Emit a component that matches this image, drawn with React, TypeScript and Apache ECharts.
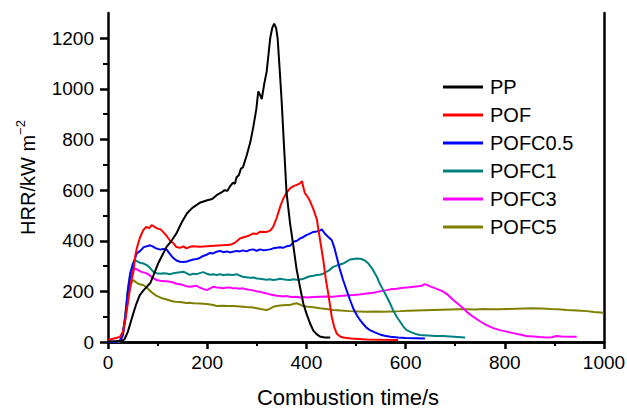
import React, { useEffect, useRef } from "react";
import * as echarts from "echarts";

const seriesNames = ["PP", "POF", "POFC0.5", "POFC1", "POFC3", "POFC5"];
const seriesColors = ["#000000", "#ff0000", "#0000ff", "#008080", "#ff00ff", "#808000"];

const ppData: number[][] = [
  [0, 2], [10, 3], [20, 4], [28, 5], [33, 10], [40, 40], [46, 80], [51, 113], [57, 150], [64, 185],
  [72, 205], [80, 222], [85, 232], [92, 265], [101, 310], [110, 345], [118, 376], [128, 400], [138, 429],
  [148, 470], [159, 508], [170, 530], [185, 550], [200, 560], [210, 565], [219, 580], [228, 590],
  [235, 600], [241, 598], [246, 615], [252, 630], [256, 625], [259, 650], [264, 660], [268, 685],
  [272, 690], [280, 740], [287, 790], [293, 850], [299, 920], [303, 990], [307, 975], [310, 960],
  [315, 1020], [320, 1070], [327, 1200], [331, 1240], [335, 1258], [339, 1240], [342, 1200],
  [346, 1080], [350, 955], [355, 770], [360, 590], [367, 470], [374, 376], [380, 290], [387, 218],
  [394, 150], [400, 113], [407, 75], [414, 45], [421, 30], [427, 22], [437, 18], [448, 18],
];

const pofData: number[][] = [
  [0, 8], [8, 12], [16, 16], [24, 20], [30, 40], [36, 100], [42, 180], [47, 240], [51, 275], [55, 340],
  [58, 370], [64, 410], [71, 442], [77, 455], [83, 450], [88, 462], [94, 455], [100, 448], [106, 445],
  [111, 435], [118, 420], [125, 400], [132, 390], [138, 375], [145, 372], [152, 378], [158, 370],
  [165, 376], [172, 378], [185, 376], [200, 378], [215, 380], [230, 382], [246, 384], [256, 392],
  [266, 409], [275, 415], [284, 420], [293, 429], [300, 427], [307, 436], [320, 435], [327, 440],
  [333, 455], [340, 490], [347, 534], [353, 565], [360, 590], [367, 607], [375, 617], [382, 622],
  [387, 627], [391, 636], [394, 610], [397, 588], [402, 575], [407, 558], [414, 525], [421, 485],
  [427, 410], [434, 324], [439, 250], [444, 192], [451, 100], [456, 60], [461, 34], [468, 22],
  [474, 18], [490, 14], [521, 10], [550, 9], [585, 8],
];

const pofc05Data: number[][] = [
  [0, 0], [15, 1], [24, 4], [30, 30], [35, 100], [40, 200], [45, 270], [51, 310], [58, 350], [65, 360],
  [72, 375], [78, 378], [85, 382], [90, 378], [95, 372], [100, 368], [106, 365], [111, 368], [118, 366],
  [124, 350], [130, 335], [138, 322], [145, 317], [152, 316], [159, 318], [165, 322], [172, 326],
  [179, 328], [185, 332], [192, 340], [199, 345], [206, 352], [212, 350], [219, 357], [226, 360],
  [232, 355], [240, 358], [246, 354], [252, 357], [260, 360], [266, 358], [272, 362], [279, 358],
  [286, 364], [293, 366], [300, 360], [306, 366], [313, 363], [320, 364], [327, 366], [333, 370],
  [340, 372], [347, 374], [353, 372], [360, 378], [367, 380], [374, 396], [381, 400], [387, 409],
  [394, 415], [400, 422], [407, 428], [414, 435], [421, 437], [427, 440], [431, 445], [437, 429],
  [444, 415], [451, 403], [456, 375], [461, 337], [467, 290], [474, 245], [481, 205], [488, 166],
  [495, 130], [502, 105], [508, 87], [515, 70], [521, 57], [528, 47], [538, 38], [548, 30], [558, 25],
  [569, 21], [585, 18], [600, 16], [620, 15], [639, 14],
];

const pofc1Data: number[][] = [
  [0, 0], [15, 0], [24, 3], [30, 35], [35, 110], [40, 210], [45, 275], [50, 310], [54, 324], [60, 318],
  [66, 312], [72, 310], [78, 304], [85, 292], [91, 278], [98, 272], [105, 270], [112, 272], [118, 271],
  [125, 268], [132, 272], [138, 274], [145, 276], [152, 278], [158, 272], [165, 265], [172, 270],
  [179, 268], [185, 272], [192, 276], [199, 270], [206, 266], [212, 268], [219, 265], [226, 268],
  [232, 264], [240, 267], [246, 266], [252, 265], [259, 268], [266, 262], [272, 258], [279, 256],
  [286, 254], [293, 255], [300, 251], [306, 250], [313, 248], [320, 246], [327, 248], [333, 245],
  [340, 247], [347, 250], [353, 248], [360, 246], [367, 245], [374, 248], [380, 246], [387, 247],
  [394, 250], [400, 255], [407, 260], [414, 262], [421, 265], [427, 266], [434, 270], [441, 278],
  [447, 285], [454, 297], [461, 302], [467, 305], [474, 310], [481, 318], [488, 326], [495, 328],
  [502, 330], [511, 328], [518, 322], [525, 310], [532, 292], [537, 275], [542, 258], [548, 230],
  [555, 205], [562, 179], [568, 155], [575, 125], [582, 100], [589, 80], [595, 62], [602, 47],
  [612, 38], [620, 32], [629, 28], [645, 26], [660, 24], [675, 24], [690, 22], [705, 20], [720, 18],
];

const pofc3Data: number[][] = [
  [0, 0], [15, 0], [24, 3], [30, 30], [35, 100], [40, 190], [45, 250], [50, 280], [54, 291], [60, 285],
  [66, 278], [72, 275], [78, 271], [85, 262], [91, 252], [98, 245], [105, 242], [112, 240], [118, 240],
  [125, 238], [132, 235], [138, 230], [145, 228], [152, 225], [158, 220], [165, 218], [172, 220],
  [179, 222], [185, 215], [192, 210], [199, 205], [206, 212], [212, 218], [219, 215], [226, 214],
  [232, 212], [240, 215], [246, 215], [252, 212], [259, 212], [266, 210], [272, 212], [279, 208],
  [286, 206], [293, 204], [300, 200], [306, 199], [313, 195], [320, 192], [327, 188], [333, 186],
  [340, 183], [347, 182], [353, 180], [360, 182], [367, 179], [374, 178], [380, 179], [387, 176],
  [394, 178], [400, 176], [414, 178], [427, 179], [440, 180], [454, 179], [467, 182], [480, 184],
  [494, 186], [507, 188], [521, 192], [535, 195], [548, 200], [562, 205], [569, 208], [582, 210],
  [595, 214], [608, 216], [616, 218], [625, 220], [632, 222], [639, 229], [645, 224], [652, 218],
  [660, 212], [668, 206], [676, 199], [686, 185], [696, 166], [706, 150], [716, 133], [726, 115],
  [736, 100], [750, 82], [763, 67], [777, 55], [790, 47], [804, 41], [817, 35], [830, 30], [844, 24],
  [857, 22], [870, 20], [884, 18], [895, 19], [904, 24], [915, 22], [930, 21], [945, 21],
];

const pofc5Data: number[][] = [
  [0, 0], [15, 0], [24, 2], [30, 25], [35, 90], [40, 170], [45, 225], [51, 245], [57, 235], [64, 228],
  [71, 225], [78, 215], [85, 202], [91, 192], [98, 182], [105, 176], [111, 172], [118, 168], [125, 164],
  [132, 160], [138, 159], [145, 158], [152, 156], [158, 154], [165, 155], [172, 153], [185, 152],
  [199, 150], [206, 148], [212, 146], [219, 142], [232, 143], [240, 142], [252, 142], [266, 140],
  [279, 138], [286, 137], [293, 136], [300, 133], [306, 131], [313, 128], [320, 126], [327, 132],
  [333, 139], [340, 142], [347, 144], [353, 145], [360, 146], [367, 146], [373, 150], [380, 153],
  [387, 148], [394, 142], [400, 140], [414, 137], [427, 133], [440, 130], [454, 126], [470, 124],
  [487, 122], [505, 121], [521, 120], [540, 121], [555, 120], [572, 121], [589, 122], [605, 123],
  [622, 124], [639, 125], [656, 126], [673, 127], [690, 128], [706, 129], [723, 129], [740, 128],
  [757, 130], [773, 129], [790, 129], [807, 130], [824, 131], [840, 132], [858, 133], [875, 132],
  [892, 130], [908, 129], [925, 126], [945, 124], [965, 122], [980, 119], [999, 116],
];

const allData = [ppData, pofData, pofc05Data, pofc1Data, pofc3Data, pofc5Data];

const yMajorTicks = [0, 200, 400, 600, 800, 1000, 1200];
const yMinorTicks = [100, 300, 500, 700, 900, 1100];

const FONT = "'Liberation Sans', Arial, Helvetica, sans-serif";

export default function App() {
  const ref = useRef<HTMLDivElement>(null);

  useEffect(() => {
    if (!ref.current) return;
    const chart = echarts.init(ref.current, null, { renderer: "svg" });
    const axisLineStyle = { color: "#000", width: 2.5 };
    const plain = (v: number) => String(v);
    chart.setOption({
      animation: false,
      backgroundColor: "#fff",
      textStyle: { fontFamily: FONT },
      grid: { left: 108, right: 23, top: 13, bottom: 67, outerBoundsMode: "none" },
      legend: {
        orient: "vertical",
        left: 438,
        top: 72,
        itemWidth: 40,
        itemHeight: 3,
        itemGap: 8,
        icon: "rect",
        textStyle: { fontSize: 20, color: "#000", fontFamily: FONT, padding: [0, 0, 0, 2] },
        data: seriesNames,
      },
      xAxis: [
        {
          type: "value",
          min: 0,
          max: 1000,
          interval: 200,
          name: "Combustion time/s",
          nameLocation: "middle",
          nameGap: 45,
          nameTextStyle: {
            fontSize: 22,
            lineHeight: 21,
            color: "#000",
            fontFamily: FONT,
            padding: [0, 16, 0, 0],
          },
          axisLine: { show: true, lineStyle: axisLineStyle },
          axisTick: { show: true, inside: false, length: 7, lineStyle: { width: 2.5, color: "#000" } },
          minorTick: { show: true, splitNumber: 2, length: 4, lineStyle: { width: 2, color: "#000" } },
          axisLabel: { fontSize: 19, color: "#000", margin: 11, fontFamily: FONT, formatter: plain },
          splitLine: { show: false },
        },
        {
          type: "value",
          position: "top",
          min: 0,
          max: 1000,
          axisLine: { show: true, lineStyle: axisLineStyle },
          axisTick: { show: false },
          axisLabel: { show: false },
          splitLine: { show: false },
        },
      ],
      yAxis: [
        {
          type: "value",
          min: 0,
          max: 1300,
          position: "left",
          name: "{a|HRR/kW m}{b|−2}",
          nameLocation: "middle",
          nameRotate: 90,
          nameGap: 70,
          nameTextStyle: {
            color: "#000",
            fontFamily: FONT,
            rich: {
              a: { fontSize: 20, fontFamily: FONT, color: "#000", verticalAlign: "bottom", lineHeight: 24 },
              b: { fontSize: 13, fontFamily: FONT, color: "#000", verticalAlign: "top", lineHeight: 14 },
            },
          },
          axisLine: { show: true, lineStyle: axisLineStyle },
          axisTick: {
            show: true,
            inside: false,
            length: 8,
            customValues: yMajorTicks,
            lineStyle: { width: 2.5, color: "#000" },
          },
          axisLabel: {
            fontSize: 19,
            color: "#000",
            margin: 14,
            fontFamily: FONT,
            customValues: yMajorTicks,
            formatter: plain,
          },
          splitLine: { show: false },
        },
        {
          type: "value",
          min: 0,
          max: 1300,
          position: "left",
          axisLine: { show: false },
          axisTick: {
            show: true,
            inside: false,
            length: 5,
            customValues: yMinorTicks,
            lineStyle: { width: 2, color: "#000" },
          },
          axisLabel: { show: false },
          splitLine: { show: false },
        },
        {
          type: "value",
          min: 0,
          max: 1300,
          position: "right",
          axisLine: { show: true, lineStyle: axisLineStyle },
          axisTick: { show: false },
          axisLabel: { show: false },
          splitLine: { show: false },
        },
      ],
      series: seriesNames.map((name, i) => ({
        name,
        type: "line",
        xAxisIndex: 0,
        yAxisIndex: 0,
        data: allData[i],
        symbol: "none",
        smooth: false,
        lineStyle: { color: seriesColors[i], width: 2 },
        itemStyle: { color: seriesColors[i] },
        z: 10 - i,
      })),
    });
    return () => chart.dispose();
  }, []);

  return (
    <div
      ref={ref}
      style={{ position: "absolute", left: 0, top: 0, width: 627, height: 409, background: "#fff" }}
    />
  );
}
